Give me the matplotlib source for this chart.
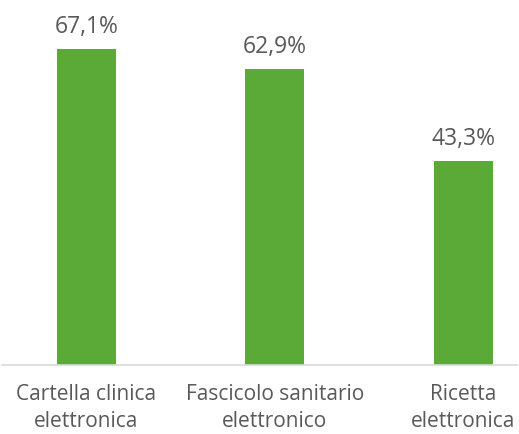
import matplotlib
matplotlib.use("Agg")
import matplotlib.pyplot as plt

categories = ["Cartella clinica\nelettronica", "Fascicolo sanitario\nelettronico", "Ricetta\nelettronica"]
values = [67.1, 62.9, 43.3]
labels = ["67,1%", "62,9%", "43,3%"]

plt.rcParams['font.family'] = ['Open Sans', 'DejaVu Sans']
text_color = '#595959'

fig = plt.figure(figsize=(5.19, 4.34), dpi=100)
ax = fig.add_axes([2/519, 1 - 365/434, 515/519, 365/434])

x = range(len(categories))
bars = ax.bar(x, values, width=0.313, color='#5BAA37', zorder=2)

for xi, v, lab in zip(x, values, labels):
    ax.annotate(lab, (xi, v), xytext=(0, 16), textcoords='offset points',
                ha='center', va='center', fontsize=16.5, color=text_color)

ax.set_xlim(-0.448, 2.284)
ax.set_ylim(0, 77.5)
ax.set_xticks(list(x))
ax.set_xticklabels(categories, fontsize=15, color=text_color, linespacing=1.35)
ax.tick_params(axis='x', length=0, pad=14)
ax.set_yticks([])
for s in ['top', 'right', 'left']:
    ax.spines[s].set_visible(False)
ax.spines['bottom'].set_color('#D9D9D9')
ax.spines['bottom'].set_linewidth(1.2)

fig.savefig("out.png", dpi=100)
